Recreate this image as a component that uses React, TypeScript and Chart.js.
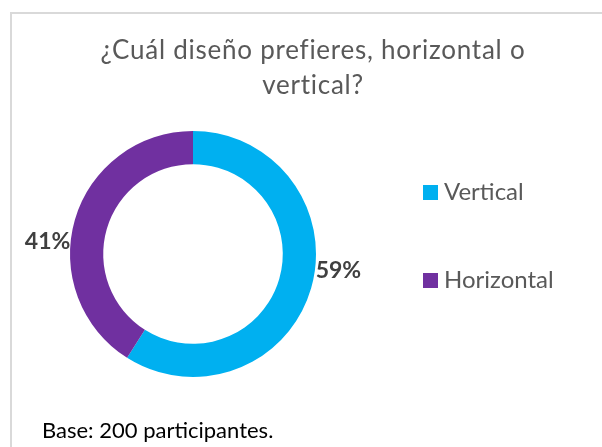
import React, { useEffect, useRef } from "react";
import { Chart, registerables } from "chart.js";

Chart.register(...registerables);

const categories = ["Vertical", "Horizontal"];
const values = [59, 41];
const colors = ["#00B0F0", "#7030A0"];
const titleLines = ["¿Cuál diseño prefieres, horizontal o", "vertical?"];
const footnote = "Base: 200 participantes.";

const FONT = "Lato, 'Open Sans', sans-serif";

export default function App() {
  const ref = useRef<HTMLCanvasElement>(null);

  useEffect(() => {
    const canvas = ref.current;
    if (!canvas) return;

    const decor = {
      id: "decor",
      beforeDraw(chart: any) {
        const ctx = chart.ctx as CanvasRenderingContext2D;
        ctx.save();
        ctx.fillStyle = "#ffffff";
        ctx.fillRect(0, 0, chart.width, chart.height);
        // frame
        ctx.strokeStyle = "#D9D9D9";
        ctx.lineWidth = 2;
        ctx.beginPath();
        ctx.moveTo(11, chart.height + 5);
        ctx.lineTo(11, 13);
        ctx.lineTo(chart.width + 5, 13);
        ctx.stroke();
        // title
        ctx.fillStyle = "#595959";
        ctx.font = `26px ${FONT}`;
        (ctx as any).letterSpacing = "0.75px";
        ctx.textAlign = "center";
        ctx.textBaseline = "alphabetic";
        titleLines.forEach((t, i) => ctx.fillText(t, 313, 59 + i * 35));
        (ctx as any).letterSpacing = "0px";
        ctx.restore();
      },
      afterDraw(chart: any) {
        const ctx = chart.ctx as CanvasRenderingContext2D;
        ctx.save();
        // data labels
        const meta = chart.getDatasetMeta(0);
        ctx.font = `bold 23px ${FONT}`;
        ctx.fillStyle = "#404040";
        ctx.textBaseline = "middle";
        meta.data.forEach((arc: any, i: number) => {
          const p = arc.getProps(["x", "y", "startAngle", "endAngle", "outerRadius"], true);
          const mid = (p.startAngle + p.endAngle) / 2;
          const R = p.outerRadius;
          const dy = Math.sin(mid) * R * 0.42;
          const dir = Math.cos(mid) >= 0 ? 1 : -1;
          const xEdge = p.x + dir * Math.sqrt(R * R - dy * dy);
          ctx.textAlign = dir > 0 ? "left" : "right";
          ctx.fillText(`${values[i]}%`, xEdge + dir * 0.5, p.y + dy + 2);
        });
        // legend
        ctx.font = `24px ${FONT}`;
        ctx.textAlign = "left";
        ctx.textBaseline = "alphabetic";
        categories.forEach((c, i) => {
          const base = 200 + i * 88;
          ctx.fillStyle = colors[i];
          ctx.fillRect(423, base - 15, 15, 15);
          ctx.fillStyle = "#595959";
          ctx.fillText(c, 444, base);
        });
        // footnote
        ctx.fillStyle = "#000000";
        ctx.font = `22px ${FONT}`;
        ctx.fillText(footnote, 42, 438);
        ctx.restore();
      },
    };

    const chart = new Chart(canvas, {
      type: "doughnut",
      data: {
        labels: categories,
        datasets: [
          {
            data: values,
            backgroundColor: colors,
            borderWidth: 0,
          },
        ],
      },
      options: {
        responsive: false,
        maintainAspectRatio: false,
        animation: false,
        events: [],
        cutout: "73%",
        layout: { padding: { left: 70, right: 286, top: 131, bottom: 70 } },
        plugins: {
          legend: { display: false },
          title: { display: false },
          tooltip: { enabled: false },
        },
      },
      plugins: [decor],
    });

    return () => chart.destroy();
  }, []);

  return (
    <div style={{ position: "absolute", left: 0, top: 0, width: 602, height: 447, overflow: "hidden" }}>
      <canvas ref={ref} width={602} height={447} style={{ display: "block" }} />
    </div>
  );
}
